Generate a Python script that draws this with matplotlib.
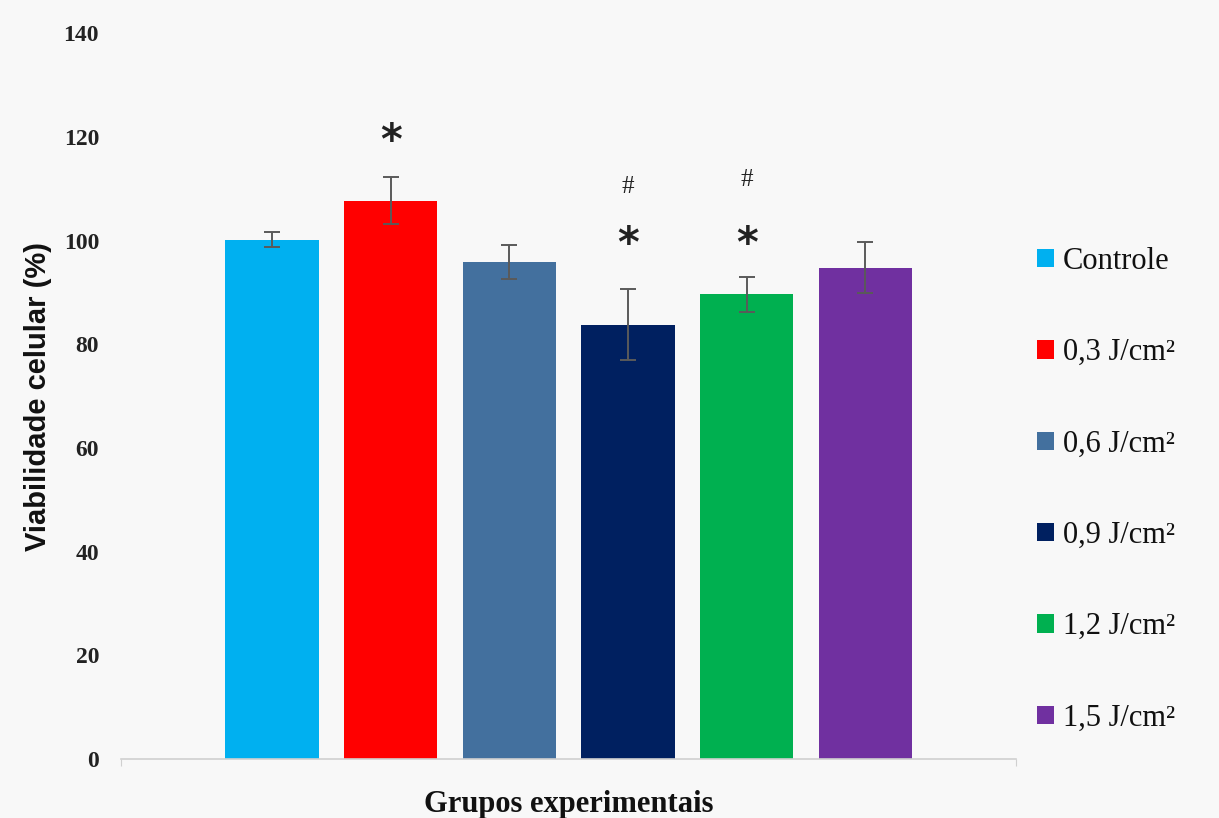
import matplotlib.pyplot as plt
import numpy as np

grupos = ['Controle', '0,3 J/cm²', '0,6 J/cm²', '0,9 J/cm²', '1,2 J/cm²', '1,5 J/cm²']
viabilidade = [100.2, 107.7, 95.9, 83.8, 89.6, 94.8]
erro = [1.4, 4.5, 3.3, 6.9, 3.3, 5.0]
cores = ['#00B0F0', '#FF0000', '#43709E', '#002060', '#00B050', '#7030A0']

# marcas de significancia: (grupo, simbolo, altura)
marcas = [(1, '*', 119.0), (3, '*', 99.2), (3, '#', 110.3),
          (4, '*', 99.2), (4, '#', 111.7)]

fig = plt.figure(figsize=(12.19, 8.18), dpi=100, facecolor='#f8f8f8')
ax = fig.add_axes([0.0995, 0.072, 0.734, 0.8875])
ax.set_facecolor('#f8f8f8')

x = np.arange(len(grupos))
barras = ax.bar(x, viabilidade, width=0.785, color=cores, label=grupos, zorder=2)
ax.errorbar(x, viabilidade, yerr=erro, fmt='none', ecolor='#5a5a5a',
            elinewidth=1.4, capsize=6, capthick=1.4, zorder=3)

for i, s, y in marcas:
    if s == '*':
        ax.text(x[i], y, s, ha='center', va='center', fontsize=30,
                fontweight='bold', family='DejaVu Sans', color='#222222')
    else:
        ax.text(x[i], y, s, ha='center', va='center', fontsize=18,
                family='Liberation Serif', color='#222222')

ax.set_xlim(-1.27, 6.27)
ax.set_ylim(0, 140)
ax.set_yticks(np.arange(0, 141, 20))
ax.set_xticks([-1.27, 6.27])
ax.set_xticklabels([])
ax.tick_params(axis='x', direction='out', length=5, color='#d0d0d0')
ax.tick_params(axis='y', length=0, pad=16)
for lb in ax.get_yticklabels():
    lb.set_family('Liberation Serif')
    lb.set_fontweight('bold')
    lb.set_fontsize(17)
    lb.set_color('#222222')

for sp in ['top', 'right', 'left']:
    ax.spines[sp].set_visible(False)
ax.spines['bottom'].set_color('#d0d0d0')
ax.spines['bottom'].set_linewidth(1.2)

ax.set_ylabel('Viabilidade celular (%)', family='Liberation Sans', fontweight='bold',
              fontsize=21, labelpad=8, color='#111111')
ax.set_xlabel('Grupos experimentais', family='Liberation Serif', fontweight='bold',
              fontsize=22, labelpad=14, color='#111111')

leg = ax.legend(handles=barras, labels=grupos, loc='center left',
                bbox_to_anchor=(0.993, 0.371), frameon=False,
                prop={'family': 'Liberation Serif', 'size': 22},
                handlelength=0.55, handleheight=0.55, handletextpad=0.3,
                labelspacing=2.04)
for t in leg.get_texts():
    t.set_color('#111111')

fig.savefig('out.png', dpi=100, facecolor=fig.get_facecolor())
